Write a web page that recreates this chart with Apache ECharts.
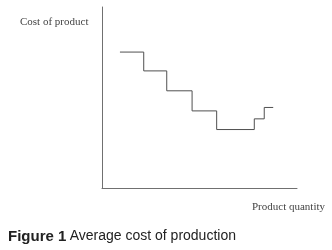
<!DOCTYPE html>
<html><head><meta charset="utf-8">
<script src="https://cdn.jsdelivr.net/npm/echarts@6/dist/echarts.min.js"></script>
<style>html,body{margin:0;padding:0;background:#fff}#c{width:332px;height:250px}</style>
</head><body><div id="c"></div>
<script>
// Step breakpoints (product quantity) and average cost levels
var quantity = [9.2, 21.4, 33.2, 46.2, 58.8, 78.1, 83.2, 87.8];
var cost     = [75.1, 64.7, 53.7, 42.6, 32.3, 38.2, 44.5, 44.5];
var yAxisTitle = 'Cost of product';
var xAxisTitle = 'Product quantity';
var captionBold = 'Figure 1';
var captionText = 'Average cost of production';

var pts = quantity.map(function(q, i){ return [q, cost[i]]; });
var chart = echarts.init(document.getElementById('c'), null, {renderer:'canvas'});
chart.setOption({
  animation:false,
  grid:{left:102, top:7, width:195, height:181},
  xAxis:{type:'value', min:0, max:100, axisLine:{lineStyle:{color:'#707070', width:1}}, axisTick:{show:false}, axisLabel:{show:false}, splitLine:{show:false}},
  yAxis:{type:'value', min:0, max:100, axisLine:{show:true, lineStyle:{color:'#707070', width:1}}, axisTick:{show:false}, axisLabel:{show:false}, splitLine:{show:false}},
  series:[{type:'line', step:'end', data:pts, symbol:'none', lineStyle:{color:'#505050', width:1}}],
  graphic:[
    {type:'text', left:20, top:17, style:{text:yAxisTitle, font:'11px "Liberation Serif"', fill:'#444'}},
    {type:'text', left:252, top:202, style:{text:xAxisTitle, font:'11px "Liberation Serif"', fill:'#444'}},
    {type:'text', left:8, top:229, style:{
      text:'{b|'+captionBold+'} {r|'+captionText+'}',
      rich:{b:{font:'bold 15px "Liberation Sans"', fill:'#222'}, r:{font:'14px "Liberation Sans"', fill:'#222'}}
    }}
  ]
});
</script></body></html>
